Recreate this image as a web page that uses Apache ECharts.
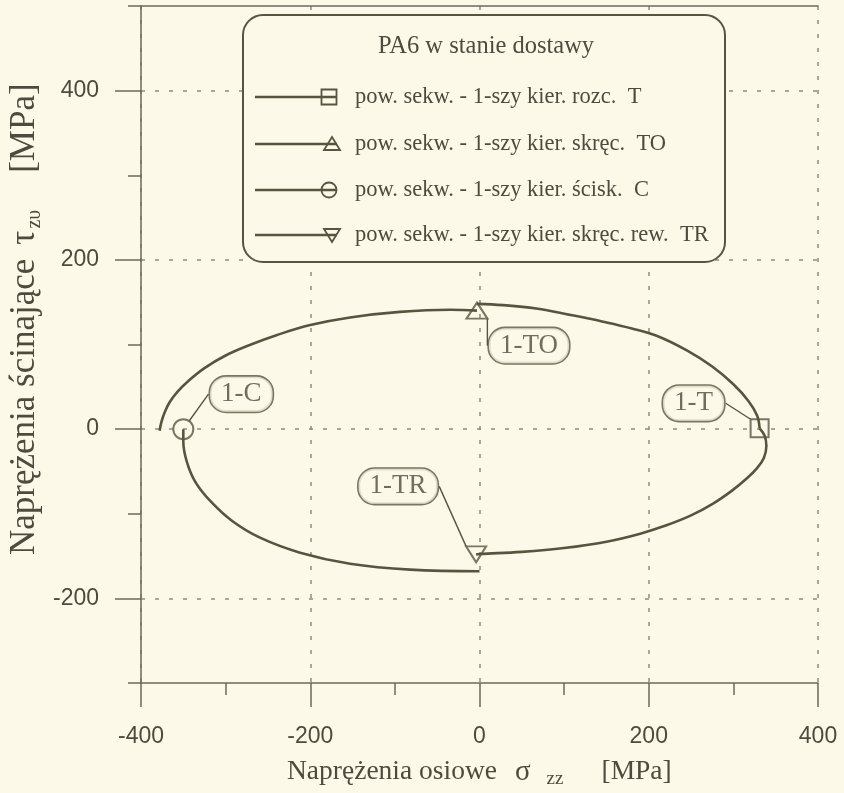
<!DOCTYPE html>
<html>
<head>
<meta charset="utf-8">
<script src="https://cdn.jsdelivr.net/npm/echarts@6/dist/echarts.min.js"></script>
<style>
  html, body { margin: 0; padding: 0; background: #fcf9e9; }
  #chart { width: 844px; height: 793px; }
</style>
</head>
<body>
<div id="chart"></div>
<script>
// PA6 as delivered: sequential yield-surface branches in the sigma_zz / tau plane [MPa]

const xTickValues = [-400, -200, 0, 200, 400];
const yLabelValues = [-200, 0, 200, 400];
const yMinorValues = [-300, -100, 100, 300, 500];

const legendTitle = 'PA6 w stanie dostawy';
const seriesNames = [
  'pow. sekw. - 1-szy kier. rozc.  T',
  'pow. sekw. - 1-szy kier. skręc.  TO',
  'pow. sekw. - 1-szy kier. ścisk.  C',
  'pow. sekw. - 1-szy kier. skręc. rew.  TR'
];
const pointLabels = ['1-T', '1-TO', '1-C', '1-TR'];

// each branch ends at its named loading point
const branchT = [
  [-3, 148], [28, 146.5], [67, 142.5], [107, 135], [146, 127], [180, 119], [210, 110],
  [245, 93], [275, 74], [300, 53], [318, 33], [328, 16], [331, 1]
];
const branchTO = [
  [-378, -2], [-376, 8], [-372, 20], [-366, 32], [-357, 44], [-345, 56], [-325, 72],
  [-300, 87], [-270, 100], [-240, 111], [-200, 123], [-153, 132], [-94, 138.5], [-35, 141], [-3, 140]
];
const branchC = [
  [0, -168], [-82, -166], [-153, -159], [-212, -146], [-260, -128], [-293, -108],
  [-319, -84], [-336, -62], [-346, -38], [-350, -15], [-350, 0]
];
const branchTR = [
  [331, 1], [337, -8], [339, -20], [336, -34], [328, -46], [315, -59], [298, -73],
  [276, -88], [250, -102], [220, -114], [190, -123.5], [150, -133], [100, -140.5],
  [50, -145], [0, -147.5], [-4, -148]
];

// ---- styling ----
const BG = '#fcf9e9';
const INK = '#57553f';
const AXIS = '#6b6a5a';
const GRID = '#8e8c7c';
const TEXT = '#4d4b3d';
const SERIF = '"Liberation Serif", "DejaVu Serif", serif';
const SANS = '"Liberation Sans", Arial, sans-serif';

const branches = [branchT, branchTO, branchC, branchTR];
const markerSymbols = ['rect', 'triangle', 'circle', 'path://M0,0 L20,0 L10,16 Z'];
const markerSizes = [18, [21, 16], 20, [20, 16]];
const labelOffsets = [[-66, -25], [52, 35], [58, -35], [-78, -68]];

const lineSeries = branches.map((b, i) => ({
  name: seriesNames[i],
  type: 'line',
  data: b,
  smooth: 0.4,
  symbol: 'none',
  silent: true,
  lineStyle: { color: INK, width: 2.6 },
  z: 3
}));

const markerSeries = {
  type: 'scatter',
  silent: true,
  z: 4,
  data: branches.map((b, i) => ({
    value: b[b.length - 1],
    symbol: markerSymbols[i],
    symbolSize: markerSizes[i],
    label: { formatter: pointLabels[i] }
  })),
  itemStyle: { color: 'rgba(0,0,0,0)', borderColor: INK, borderWidth: 2 },
  label: {
    show: true,
    position: 'inside',
    fontFamily: SERIF,
    fontSize: 27,
    lineHeight: 30,
    color: TEXT,
    backgroundColor: BG,
    borderColor: INK,
    borderWidth: 1.6,
    borderRadius: 16,
    padding: [3, 11, 2, 11]
  },
  labelLine: { show: true, lineStyle: { color: INK, width: 1.4 } },
  labelLayout: function (p) {
    const o = labelOffsets[p.dataIndex];
    return { dx: o[0], dy: o[1] };
  }
};

// legend panel drawn as graphics, above the grid lines
const TOP = 100;
const legendRowsY = [97, 144, 190, 235];
const overlayEls = [
  {
    type: 'rect', z: TOP,
    shape: { x: 243, y: 15, width: 482, height: 247, r: 20 },
    style: { fill: BG, stroke: INK, lineWidth: 2 }
  },
  {
    type: 'text', z: TOP + 1,
    x: 486, y: 47,
    style: { text: legendTitle, font: '24.5px ' + SERIF, fill: TEXT, align: 'center', verticalAlign: 'middle' }
  }
];
legendRowsY.forEach((cy, i) => {
  const cx = (i === 1 || i === 3) ? 332 : 329;
  overlayEls.push({
    type: 'line', z: TOP + 1,
    shape: { x1: 255, y1: cy, x2: 337, y2: cy },
    style: { stroke: INK, lineWidth: 2.4 }
  });
  let icon;
  if (i === 0) {
    icon = { type: 'rect', shape: { x: cx - 7.5, y: cy - 7.5, width: 15, height: 15 } };
  } else if (i === 1) {
    icon = { type: 'polygon', shape: { points: [[cx - 8, cy + 6], [cx + 8, cy + 6], [cx, cy - 7]] } };
  } else if (i === 2) {
    icon = { type: 'circle', shape: { cx: cx, cy: cy, r: 7.5 } };
  } else {
    icon = { type: 'polygon', shape: { points: [[cx - 8, cy - 6], [cx + 8, cy - 6], [cx, cy + 7]] } };
  }
  icon.z = TOP + 2;
  icon.style = { fill: 'rgba(0,0,0,0)', stroke: INK, lineWidth: 1.8 };
  overlayEls.push(icon);
  overlayEls.push({
    type: 'text', z: TOP + 1,
    x: 355, y: cy,
    style: { text: seriesNames[i], font: '22.5px ' + SERIF, fill: TEXT, align: 'left', verticalAlign: 'middle' }
  });
});

// axis titles with Greek symbols and subscripts
overlayEls.push({
  type: 'text', z: TOP,
  x: 287, y: 772,
  style: {
    text: '{a|Naprężenia osiowe}{g|σ}{s|zz}{u|[MPa]}',
    align: 'left', verticalAlign: 'middle', fill: TEXT,
    rich: {
      a: { fontFamily: SERIF, fontSize: 27.5, lineHeight: 34, color: TEXT },
      g: { fontFamily: SERIF, fontSize: 29, lineHeight: 34, color: TEXT, padding: [0, 0, 0, 18] },
      s: { fontFamily: SERIF, fontSize: 19, lineHeight: 19, color: TEXT, verticalAlign: 'bottom', padding: [0, 0, 0, 16] },
      u: { fontFamily: SERIF, fontSize: 27.5, lineHeight: 34, color: TEXT, padding: [0, 0, 0, 38] }
    }
  }
});
overlayEls.push({
  type: 'text', z: TOP,
  x: 25, y: 555,
  rotation: Math.PI / 2,
  style: {
    text: '{a|Naprężenia ścinające}{g|τ}{s|zυ}{u|[MPa]}',
    align: 'left', verticalAlign: 'middle', fill: TEXT,
    rich: {
      a: { fontFamily: SERIF, fontSize: 35, lineHeight: 40, color: TEXT },
      g: { fontFamily: SERIF, fontSize: 35, lineHeight: 40, color: TEXT, padding: [0, 0, 0, 14] },
      s: { fontFamily: SERIF, fontSize: 20, lineHeight: 20, color: TEXT, verticalAlign: 'bottom', padding: [0, 0, 0, 2] },
      u: { fontFamily: SERIF, fontSize: 35, lineHeight: 40, color: TEXT, padding: [0, 0, 0, 37] }
    }
  }
});

const tickLine = { color: AXIS, width: 1.5 };

const option = {
  backgroundColor: BG,
  animation: false,
  grid: { left: 141, right: 26, top: 6, bottom: 110 },
  xAxis: [
    {
      type: 'value',
      min: xTickValues[0], max: xTickValues[xTickValues.length - 1], interval: 200,
      position: 'bottom',
      axisLine: { onZero: false, lineStyle: tickLine },
      axisTick: { length: 24, lineStyle: tickLine },
      minorTick: { show: true, splitNumber: 2, length: 12, lineStyle: tickLine },
      axisLabel: { fontFamily: SANS, fontSize: 23, color: TEXT, margin: 42 },
      splitLine: { show: true, lineStyle: { color: GRID, width: 1.5, type: [4, 10] } },
      minorSplitLine: { show: false }
    },
    {
      type: 'value',
      min: xTickValues[0], max: xTickValues[xTickValues.length - 1], interval: 200,
      position: 'top',
      axisLine: { show: true, onZero: false, lineStyle: tickLine },
      axisTick: { show: false },
      axisLabel: { show: false },
      splitLine: { show: false }
    }
  ],
  yAxis: [
    {
      type: 'value',
      min: -300, max: 500, interval: 100,
      position: 'left',
      axisLine: { onZero: false, lineStyle: tickLine },
      axisTick: { length: 26, lineStyle: tickLine, customValues: yLabelValues },
      axisLabel: { fontFamily: SANS, fontSize: 23, color: TEXT, margin: 42, customValues: yLabelValues },
      splitLine: { show: true, lineStyle: { color: GRID, width: 1.5, type: [4, 10] } }
    },
    {
      type: 'value',
      min: -300, max: 500, interval: 100,
      position: 'left',
      axisLine: { show: false, onZero: false },
      axisTick: { length: 13, lineStyle: tickLine, customValues: yMinorValues },
      axisLabel: { show: false },
      splitLine: { show: false }
    }
  ],
  series: lineSeries.concat([markerSeries]),
  graphic: { elements: overlayEls }
};

const chart = echarts.init(document.getElementById('chart'), null, { renderer: 'canvas' });
chart.setOption(option);
</script>
</body>
</html>
